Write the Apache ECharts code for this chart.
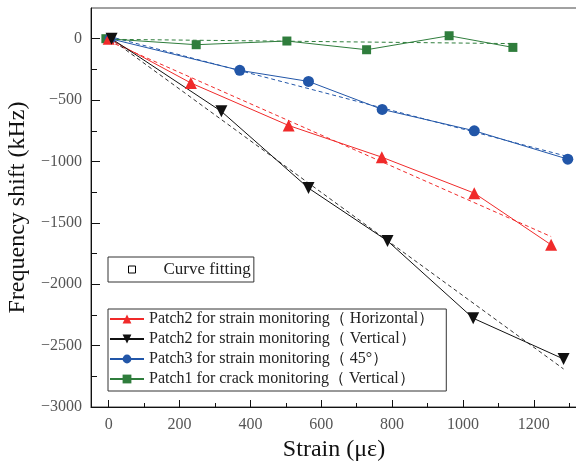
<!DOCTYPE html>
<html>
<head>
<meta charset="utf-8">
<script src="https://cdn.jsdelivr.net/npm/echarts@6/dist/echarts.min.js"></script>
<style>
  html, body { margin: 0; padding: 0; background: #fff; }
  #chart { width: 576px; height: 461px; }
</style>
</head>
<body>
<div id="chart"></div>
<script>
// 数据
const redStrain = [0, 232, 508, 771, 1032, 1249];
const redShift = [0, -361, -707, -965, -1258, -1679];
const blackStrain = [8, 318, 564, 787, 1029, 1284];
const blackShift = [0, -592, -1217, -1647, -2277, -2609];
const blueStrain = [4, 370, 564, 772, 1032, 1296];
const blueShift = [0, -258, -348, -576, -750, -981];
const greenStrain = [-8, 247, 503, 728, 961, 1141];
const greenShift = [0, -49, -19, -90, 24, -71];

// 拟合直线端点
const redFit = [[0, -20], [1249, -1612]];
const blackFit = [[0, 10], [1284, -2690]];
const blueFit = [[0, 20], [1296, -960]];
const greenFit = [[0, -5], [1141, -40]];

const xMajorTicks = [0, 200, 400, 600, 800, 1000, 1200];
const xMinorTicks = [100, 300, 500, 700, 900, 1100, 1300];
const yMajorTicks = [-3000, -2500, -2000, -1500, -1000, -500, 0];
const yMinorTicks = [-2750, -2250, -1750, -1250, -750, -250];

const names = [
    'Patch2 for strain monitoring（ Horizontal）',
    'Patch2 for strain monitoring（ Vertical）',
    'Patch3 for strain monitoring（ 45°）',
    'Patch1 for crack monitoring（ Vertical）'
];
const colors = ['#f02a2a', '#111111', '#2256a8', '#2f7d3c'];

const serif = '"Liberation Serif", "Times New Roman", serif';

function zip(xs, ys) {
    return xs.map((x, i) => [x, ys[i]]);
}

const chart = echarts.init(document.getElementById('chart'));

function dataSeries(i, xs, ys, symbol, size, rotate) {
    return {
        name: names[i],
        type: 'line',
        data: zip(xs, ys),
        symbol: symbol,
        symbolSize: size,
        symbolRotate: rotate || 0,
        color: colors[i],
        lineStyle: { width: 1, color: colors[i] },
        itemStyle: { color: colors[i] },
        z: 3
    };
}

function fitSeries(i, pts) {
    return {
        name: 'Curve fitting',
        type: 'line',
        data: pts,
        symbol: 'none',
        lineStyle: { width: 1, type: [4, 3], color: i === 1 ? '#333' : colors[i] },
        z: 2
    };
}

const plain = v => String(v).replace('-', '−');

const option = {
    animation: false,
    grid: {
        left: 91, top: 8, right: -1, bottom: 54,
        outerBoundsMode: 'none',
        show: true, borderColor: '#444', borderWidth: 1
    },
    xAxis: [{
        type: 'value', min: -50, max: 1322,
        name: 'Strain (με)', nameLocation: 'middle', nameGap: 30,
        nameTextStyle: { fontFamily: serif, fontSize: 24, color: '#111' },
        axisLine: { show: true, onZero: false, lineStyle: { color: '#111', width: 1 } },
        axisTick: { show: true, inside: true, length: 7, customValues: xMajorTicks, lineStyle: { color: '#111' } },
        axisLabel: { customValues: xMajorTicks, margin: 10, fontFamily: serif, fontSize: 16, color: '#555', formatter: plain },
        splitLine: { show: false }
    }, {
        type: 'value', min: -50, max: 1322, position: 'bottom',
        axisLine: { show: false, onZero: false },
        axisTick: { show: true, inside: true, length: 4, customValues: xMinorTicks, lineStyle: { color: '#111' } },
        axisLabel: { show: false },
        splitLine: { show: false }
    }],
    yAxis: [{
        type: 'value', min: -3000, max: 250,
        name: 'Frequency shift (kHz)', nameLocation: 'middle', nameGap: 38,
        nameTextStyle: { fontFamily: serif, fontSize: 24, color: '#111' },
        axisLine: { show: true, onZero: false, lineStyle: { color: '#111', width: 1 } },
        axisTick: { show: true, inside: true, length: 9, customValues: yMajorTicks, lineStyle: { color: '#111' } },
        axisLabel: { customValues: yMajorTicks, margin: 9, fontFamily: serif, fontSize: 16, color: '#555', formatter: plain },
        splitLine: { show: false }
    }, {
        type: 'value', min: -3000, max: 250, position: 'left',
        axisLine: { show: false, onZero: false },
        axisTick: { show: true, inside: true, length: 6, customValues: yMinorTicks, lineStyle: { color: '#111' } },
        axisLabel: { show: false },
        splitLine: { show: false }
    }],
    legend: [{
        left: 108, top: 257,
        data: [{
            name: 'Curve fitting', icon: 'rect',
            itemStyle: { color: '#fff', borderColor: '#000', borderWidth: 1 }
        }],
        itemWidth: 7, itemHeight: 7,
        padding: [4, 3, 4, 20],
        borderColor: '#333', borderWidth: 1,
        textStyle: { fontFamily: serif, fontSize: 17, color: '#222', padding: [0, 0, 0, 23] },
        selectedMode: false
    }, {
        left: 108, top: 309, orient: 'vertical',
        data: names,
        itemWidth: 34, itemHeight: 11, itemGap: 4,
        padding: [2, 12, 4, 1],
        borderColor: '#333', borderWidth: 1,
        textStyle: { fontFamily: serif, fontSize: 16, color: '#222' },
        selectedMode: false
    }],
    series: [
        fitSeries(0, redFit),
        fitSeries(1, blackFit),
        fitSeries(2, blueFit),
        fitSeries(3, greenFit),
        dataSeries(3, greenStrain, greenShift, 'rect', 9),
        dataSeries(2, blueStrain, blueShift, 'circle', 11),
        dataSeries(0, redStrain, redShift, 'triangle', 12),
        dataSeries(1, blackStrain, blackShift, 'triangle', 12, 180)
    ]
};

chart.setOption(option);
</script>
</body>
</html>
